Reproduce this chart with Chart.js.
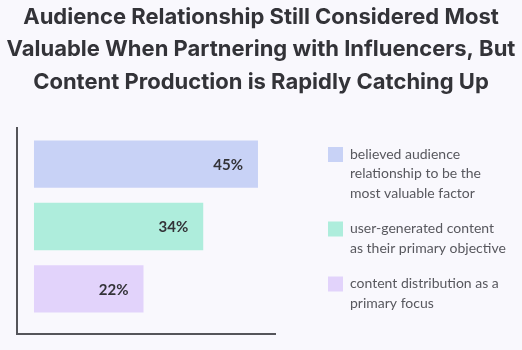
<!DOCTYPE html>
<html lang="en">
<head>
    <meta charset="UTF-8">
    <title>Audience Relationship Still Considered Most Valuable</title>
    <script src="https://cdn.jsdelivr.net/npm/chart.js"></script>
    <style>
        html, body { margin: 0; padding: 0; background: #f9f8fd; }
        #wrap { width: 522px; height: 350px; }
    </style>
</head>
<body>
    <div id="wrap"><canvas id="myChart"></canvas></div>
    <script>
        // данные
        const titleLines = [
            'Audience Relationship Still Considered Most',
            'Valuable When Partnering with Influencers, But',
            'Content Production is Rapidly Catching Up'
        ];
        const categories = [
            ['believed audience', 'relationship to be the', 'most valuable factor'],
            ['user-generated content', 'as their primary objective'],
            ['content distribution as a', 'primary focus']
        ];
        const values = [45, 34, 22];
        const barColors = ['#c8d2f6', '#aeeddc', '#e2d3fb'];

        // заголовок по центру всего холста
        const bigTitle = {
            id: 'bigTitle',
            afterDraw(chart) {
                const c = chart.ctx;
                c.save();
                c.font = 'bold 22px Inter';
                c.fillStyle = '#333338';
                c.textAlign = 'center';
                c.textBaseline = 'middle';
                titleLines.forEach((t, i) => c.fillText(t, chart.width / 2, 17 + i * 32.5));
                c.restore();
            }
        };

        // подписи значений внутри столбцов
        const valueLabels = {
            id: 'valueLabels',
            afterDatasetsDraw(chart) {
                const c = chart.ctx;
                const meta = chart.getDatasetMeta(0);
                c.save();
                c.font = 'bold 15px Lato';
                c.fillStyle = '#333338';
                c.textAlign = 'right';
                c.textBaseline = 'middle';
                meta.data.forEach((bar, i) => {
                    c.fillText(values[i] + '%', bar.x - 15, bar.y + 1);
                });
                c.restore();
            }
        };

        // оси (чуть длиннее области графика)
        const axisLines = {
            id: 'axisLines',
            afterDraw(chart) {
                const a = chart.chartArea;
                const c = chart.ctx;
                c.save();
                c.strokeStyle = '#55555a';
                c.lineWidth = 2;
                c.beginPath();
                c.moveTo(a.left, a.top - 6);
                c.lineTo(a.left, a.bottom + 14);
                c.lineTo(a.right, a.bottom + 14);
                c.stroke();
                c.restore();
            }
        };

        // легенда справа, многострочная
        const sideLegend = {
            id: 'sideLegend',
            afterDraw(chart) {
                const a = chart.chartArea;
                const c = chart.ctx;
                const lh = 19.5;
                let y = a.top + 14;
                c.save();
                c.font = '14px Lato';
                c.textBaseline = 'top';
                categories.forEach((lines, i) => {
                    c.fillStyle = barColors[i];
                    c.fillRect(a.right + 52, y, 15, 15);
                    c.fillStyle = '#58585e';
                    lines.forEach((t, j) => c.fillText(t, a.right + 74, y + j * lh));
                    y += lines.length * lh + 16;
                });
                c.restore();
            }
        };

        const ctx = document.getElementById('myChart').getContext('2d');
        const myChart = new Chart(ctx, {
            type: 'bar',
            data: {
                labels: categories,
                datasets: [{
                    data: values,
                    backgroundColor: barColors,
                    categoryPercentage: 1,
                    barPercentage: 0.76
                }]
            },
            options: {
                indexAxis: 'y',
                responsive: true,
                maintainAspectRatio: false,
                animation: false,
                layout: { padding: { left: 17, right: 246, top: 133, bottom: 30 } },
                plugins: {
                    legend: { display: false },
                    tooltip: { enabled: false },
                    title: { display: false }
                },
                scales: {
                    x: { display: false, min: -3.41, max: 48.62 },
                    y: { display: false }
                }
            },
            plugins: [bigTitle, valueLabels, axisLines, sideLegend]
        });
    </script>
</body>
</html>
